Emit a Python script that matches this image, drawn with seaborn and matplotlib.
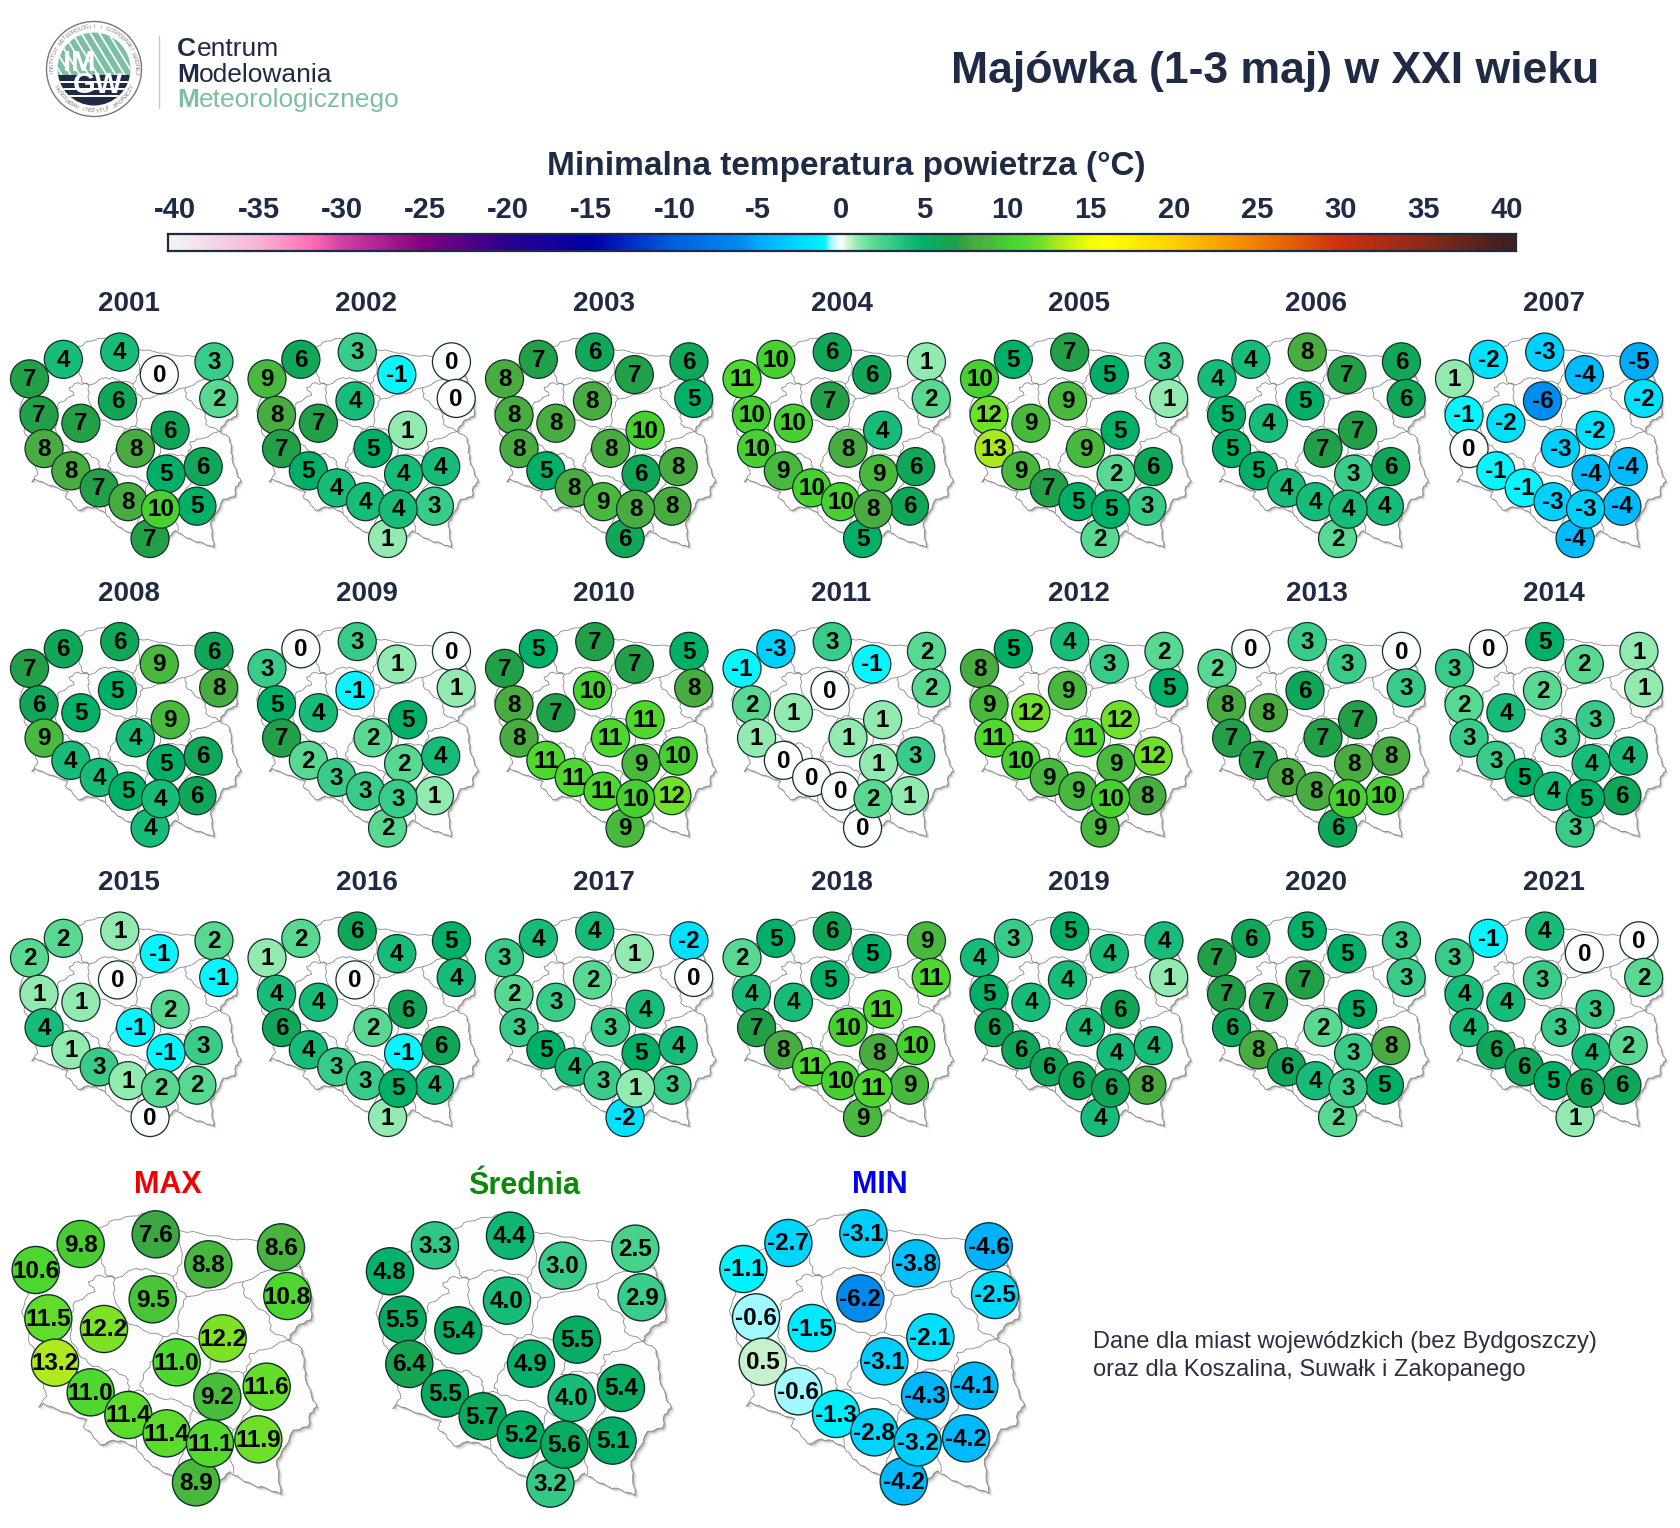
import numpy as np
import pandas as pd
import matplotlib
matplotlib.use("Agg")
import matplotlib.pyplot as plt
import seaborn as sns
from matplotlib.colors import LinearSegmentedColormap, Normalize
from matplotlib.patches import Circle, Polygon, Rectangle

# ---------- data ----------
CITIES = ["Szczecin", "Koszalin", "Gdansk", "Olsztyn", "Suwalki", "Bialystok", "Gorzow", "Poznan",
          "Torun", "Warszawa", "ZielonaGora", "Lodz", "Wroclaw", "Kielce", "Lublin", "Opole",
          "Katowice", "Krakow", "Rzeszow", "Zakopane"]
CITY_X = [107, 242, 467, 625, 843, 862, 145, 312, 458, 668, 165, 530, 272, 652, 800, 385, 500, 630, 775, 588]
CITY_Y = [300, 222, 193, 283, 232, 378, 445, 477, 388, 505, 578, 577, 667, 680, 650, 735, 790, 820, 808, 937]

YEARS = list(range(2001, 2022))
T2001 = [7, 4, 4, 0, 3, 2, 7, 7, 6, 6, 8, 8, 8, 5, 6, 7, 8, 10, 5, 7]
T2002 = [9, 6, 3, -1, 0, 0, 8, 7, 4, 1, 7, 5, 5, 4, 4, 4, 4, 4, 3, 1]
T2003 = [8, 7, 6, 7, 6, 5, 8, 8, 8, 10, 8, 8, 5, 6, 8, 8, 9, 8, 8, 6]
T2004 = [11, 10, 6, 6, 1, 2, 10, 10, 7, 4, 10, 8, 9, 9, 6, 10, 10, 8, 6, 5]
T2005 = [10, 5, 7, 5, 3, 1, 12, 9, 9, 5, 13, 9, 9, 2, 6, 7, 5, 5, 3, 2]
T2006 = [4, 4, 8, 7, 6, 6, 5, 4, 5, 7, 5, 7, 5, 3, 6, 4, 4, 4, 4, 2]
T2007 = [1, -2, -3, -4, -5, -2, -1, -2, -6, -2, 0, -3, -1, -4, -4, -1, -3, -3, -4, -4]
T2008 = [7, 6, 6, 9, 6, 8, 6, 5, 5, 9, 9, 4, 4, 5, 6, 4, 5, 4, 6, 4]
T2009 = [3, 0, 3, 1, 0, 1, 5, 4, -1, 5, 7, 2, 2, 2, 4, 3, 3, 3, 1, 2]
T2010 = [7, 5, 7, 7, 5, 8, 8, 7, 10, 11, 8, 11, 11, 9, 10, 11, 11, 10, 12, 9]
T2011 = [-1, -3, 3, -1, 2, 2, 2, 1, 0, 1, 1, 1, 0, 1, 3, 0, 0, 2, 1, 0]
T2012 = [8, 5, 4, 3, 2, 5, 9, 12, 9, 12, 11, 11, 10, 9, 12, 9, 9, 10, 8, 9]
T2013 = [2, 0, 3, 3, 0, 3, 8, 8, 6, 7, 7, 7, 7, 8, 8, 8, 8, 10, 10, 6]
T2014 = [3, 0, 5, 2, 1, 1, 2, 4, 2, 3, 3, 3, 3, 4, 4, 5, 4, 5, 6, 3]
T2015 = [2, 2, 1, -1, 2, -1, 1, 1, 0, 2, 4, -1, 1, -1, 3, 3, 1, 2, 2, 0]
T2016 = [1, 2, 6, 4, 5, 4, 4, 4, 0, 6, 6, 2, 4, -1, 6, 3, 3, 5, 4, 1]
T2017 = [3, 4, 4, 1, -2, 0, 2, 3, 2, 4, 3, 3, 5, 5, 4, 4, 3, 1, 3, -2]
T2018 = [2, 5, 6, 5, 9, 11, 4, 4, 5, 11, 7, 10, 8, 8, 10, 11, 10, 11, 9, 9]
T2019 = [4, 3, 5, 4, 4, 1, 5, 4, 4, 6, 6, 4, 6, 4, 4, 6, 6, 6, 8, 4]
T2020 = [7, 6, 5, 5, 3, 3, 7, 7, 7, 5, 6, 2, 8, 3, 8, 6, 4, 3, 5, 2]
T2021 = [3, -1, 4, 0, 0, 2, 4, 4, 3, 3, 4, 3, 6, 4, 2, 6, 5, 6, 6, 1]
YEAR_VALUES = [T2001, T2002, T2003, T2004, T2005, T2006, T2007, T2008, T2009, T2010, T2011,
               T2012, T2013, T2014, T2015, T2016, T2017, T2018, T2019, T2020, T2021]
T_MAX = [10.6, 9.8, 7.6, 8.8, 8.6, 10.8, 11.5, 12.2, 9.5, 12.2, 13.2, 11.0, 11.0, 9.2, 11.6, 11.4, 11.4, 11.1, 11.9, 8.9]
T_AVG = [4.8, 3.3, 4.4, 3.0, 2.5, 2.9, 5.5, 5.4, 4.0, 5.5, 6.4, 4.9, 5.5, 4.0, 5.4, 5.7, 5.2, 5.6, 5.1, 3.2]
T_MIN = [-1.1, -2.7, -3.1, -3.8, -4.6, -2.5, -0.6, -1.5, -6.2, -2.1, 0.5, -3.1, -0.6, -4.3, -4.1, -1.3, -2.8, -3.2, -4.2, -4.2]

CBAR_TICKS = list(range(-40, 45, 5))

OUTLINE = [(250, 195), (310, 170), (340, 150), (400, 138), (440, 130), (540, 182), (600, 190), (680, 205), (770, 212),
           (850, 250), (900, 285), (905, 310), (925, 340), (935, 400), (932, 450), (900, 462), (875, 490), (865, 510),
           (905, 535), (912, 580), (915, 620), (935, 680), (950, 710), (930, 730), (925, 770), (880, 780), (855, 830),
           (830, 870), (835, 920), (842, 972), (800, 955), (760, 945), (720, 925), (690, 905), (660, 930), (620, 990),
           (550, 960), (520, 920), (480, 900), (450, 880), (430, 860), (410, 835), (375, 815), (340, 810), (300, 825),
           (275, 790), (250, 770), (262, 750), (220, 735), (165, 715), (130, 700), (115, 712), (140, 680), (130, 640),
           (110, 600), (105, 540), (85, 510), (90, 470), (65, 425), (85, 375), (70, 330), (55, 290), (110, 270), (180, 235)]
BORDERS = [
    [(305, 265), (315, 310), (345, 325), (300, 315), (265, 335), (285, 365), (225, 395), (215, 430), (210, 500),
     (235, 550), (265, 580), (310, 600), (345, 600), (385, 630), (385, 660), (400, 700), (395, 760), (410, 835)],
    [(345, 325), (410, 295), (450, 300), (520, 320), (530, 350), (560, 380), (540, 420), (530, 490)],
    [(345, 325), (340, 370), (370, 450), (430, 480), (490, 500), (530, 490), (600, 510), (640, 560), (620, 610)],
    [(490, 500), (460, 570), (440, 600), (420, 640), (430, 665), (470, 680), (540, 695), (580, 720), (560, 770),
     (550, 850), (520, 920)],
    [(540, 190), (545, 280), (520, 320)],
    [(560, 380), (650, 360), (730, 335), (810, 300), (900, 290)],
    [(730, 335), (730, 370), (760, 400), (810, 440), (810, 480), (865, 510)],
    [(865, 510), (790, 540), (750, 550), (750, 580), (730, 610), (750, 690), (750, 720), (700, 780), (690, 850), (700, 910)],
    [(620, 610), (680, 600), (730, 610)],
    [(580, 720), (640, 750), (700, 780)],
    [(385, 660), (430, 665)],
]

# ---------- style ----------
sns.set_theme(style="white")
plt.rcParams["font.family"] = ["Liberation Sans", "DejaVu Sans"]
NARROW = ["Liberation Sans Narrow", "Liberation Sans"]
NAVY = "#1f2a44"
W, H = 1680, 1528

stops = [(-40, "#f2f2f2"), (-35, "#f7b3d5"), (-32, "#ff70b5"), (-30, "#d040a0"), (-25, "#800080"), (-20, "#2a0090"),
         (-15, "#0000a8"), (-10, "#0060e0"), (-6, "#008cf0"), (-5, "#00aaf8"), (-4, "#00bcff"), (-3, "#00d0ff"),
         (-2, "#00e0ff"), (-1, "#00f4ff"), (-0.6, "#a0f8ff"), (0, "#ffffff"), (0.5, "#c8f0d0"), (1, "#90eab0"),
         (2, "#58d890"), (3, "#38cc88"), (4, "#18bc78"), (5, "#00b068"), (6, "#10a858"), (7, "#22a048"),
         (8, "#48ac40"), (9, "#48b83c"), (10, "#48d030"), (11, "#50d830"), (12, "#70e028"), (13, "#a8e820"),
         (15, "#f0ff00"), (16, "#ffff00"), (20, "#ffd000"), (25, "#f08000"), (30, "#d03010"), (35, "#8c2a18"),
         (40, "#402020")]
CMAP = LinearSegmentedColormap.from_list("temp", [((v + 40) / 80, c) for v, c in stops], N=1024)
NORM = Normalize(-40, 40)

fig = plt.figure(figsize=(W / 100, H / 100), dpi=100, facecolor="white")


def add_px_axes(x0, y0, w, h, **kw):
    return fig.add_axes([x0 / W, 1 - (y0 + h) / H, w / W, h / H], **kw)


def ftext(x, y, s, **kw):
    kw.setdefault("ha", "center")
    kw.setdefault("va", "center")
    return fig.text(x / W, 1 - y / H, s, **kw)


def jag(points, amp=5.0, n=4):
    """Break a border into short wiggly pieces, as on a real boundary."""
    out = []
    k = 0
    for (x1, y1), (x2, y2) in zip(points[:-1], points[1:]):
        d = np.array([x2 - x1, y2 - y1], float)
        L = np.hypot(*d) or 1
        nrm = np.array([-d[1], d[0]]) / L
        for j in range(n):
            t = j / n
            off = amp * np.sin(k * 2.1) if j else 0
            out.append((x1 + d[0] * t + nrm[0] * off, y1 + d[1] * t + nrm[1] * off))
            k += 1
    out.append(points[-1])
    return np.array(out)


OUT_J = jag(OUTLINE + [OUTLINE[0]], amp=3.0, n=3)
BORD_J = [jag(b, amp=4.0, n=3) for b in BORDERS]


def draw_map(x0, y0, scale, values, size, lw):
    ax = add_px_axes(x0, y0, 1020 * scale, 1074 * scale)
    ax.set_xlim(0, 1020)
    ax.set_ylim(1074, 0)
    ax.set_axis_off()
    ax.patch.set_alpha(0)
    # soft shadow
    for off, a in [(20, .05), (15, .07), (11, .10), (7, .14), (4, .18)]:
        ax.add_patch(Polygon(OUT_J + np.array([off * .6, off * .6]), closed=True, fc="#303030", ec="none", alpha=a, zorder=1))
    ax.add_patch(Polygon(OUT_J, closed=True, fc="#fdfdfd", ec="#8a8a8a", lw=.6, zorder=2))
    for b in BORD_J:
        ax.plot(b[:, 0], b[:, 1], color="#8a8a8a", lw=.6, zorder=2.5)
    df = pd.DataFrame({"city": CITIES, "x": CITY_X, "y": CITY_Y, "t": values})
    df = pd.concat([df[df.city != "Krakow"], df[df.city == "Krakow"]])
    sns.scatterplot(data=df, x="x", y="y", hue="t", hue_norm=NORM, palette=CMAP, s=size, ax=ax, legend=False,
                    edgecolor="#12302a", linewidth=lw, zorder=3, clip_on=False)
    for _, r in df.iterrows():
        v = r["t"]
        lab = f"{v:.1f}" if float(v) != int(v) or isinstance(values[0], float) else f"{int(v)}"
        ax.text(r["x"], r["y"] + 3, lab, ha="center", va="center", fontsize=17.5, color="black",
                family=NARROW, weight="bold", zorder=4, clip_on=False)
    ax.set_xlabel("")
    ax.set_ylabel("")
    return ax


# ---------- small multiples ----------
SMALL = 0.2506
for i, (yr, vals) in enumerate(zip(YEARS, YEAR_VALUES)):
    c, r = i % 7, i // 7
    draw_map(2.7 + 237.5 * c, 303.7 + 289.5 * r, SMALL, vals, 750, .9)
    ftext(129 + 237.5 * c, 304 + 289.5 * r, str(yr), fontsize=20, weight="bold", color=NAVY)

# ---------- summary maps ----------
draw_map(0, 1170, 1 / 3, T_MAX, 1150, 1.0)
draw_map(354.3, 1171.3, 1 / 3, T_AVG, 1150, 1.0)
draw_map(707.7, 1169, 1 / 3, T_MIN, 1150, 1.0)
ftext(168, 1185, "MAX", fontsize=22, weight="bold", color="#f00000")
ftext(524, 1186, "Średnia", fontsize=22, weight="bold", color="#0a8a0a")
ftext(880, 1185, "MIN", fontsize=22, weight="bold", color="#0000ee")
ftext(1093, 1342, "Dane dla miast wojewódzkich (bez Bydgoszczy)", ha="left", fontsize=17, color="#2a3040")
ftext(1093, 1370, "oraz dla Koszalina, Suwałk i Zakopanego", ha="left", fontsize=17, color="#2a3040")

# ---------- headings ----------
ftext(1275, 71, "Majówka (1-3 maj) w XXI wieku", fontsize=32, weight="bold", color=NAVY)
ftext(846, 167, "Minimalna temperatura powietrza (°C)", fontsize=24, weight="bold", color=NAVY)

# ---------- colour bar ----------
cax = add_px_axes(168, 234, 1348, 17)
grad = np.linspace(-40.44, 40.56, 1400)[None, :]
cax.pcolormesh(np.linspace(-40.44, 40.56, 1401), [0, 1], grad, cmap=CMAP, norm=NORM, shading="flat", rasterized=True)
cax.set_xlim(-40.44, 40.56)
cax.set_ylim(0, 1)
cax.set_yticks([])
cax.set_xticks(CBAR_TICKS)
cax.set_xticklabels([str(t) for t in CBAR_TICKS], fontsize=21, weight="bold", color=NAVY)
cax.tick_params(axis="x", which="both", direction="in", top=True, bottom=True, width=6.5, length=2.6, color="black",
                pad=7, labeltop=True, labelbottom=False)
for s in cax.spines.values():
    s.set_color(NAVY)
    s.set_linewidth(1.6)
    s.set_visible(True)

# ---------- logo ----------
lax = add_px_axes(0, 0, 440, 130)
lax.set_xlim(0, 440)
lax.set_ylim(130, 0)
lax.set_axis_off()
lax.patch.set_alpha(0)
cx, cy = 94, 69
GREEN = "#7dbfa5"
lax.add_patch(Circle((cx, cy), 47.5, fc="white", ec="#777777", lw=1.0))
disc = Circle((cx, cy), 36.5, transform=lax.transData, fc="none", ec="none")
lax.add_patch(disc)
gr = Rectangle((cx - 40, cy - 40), 80, 46, fc=GREEN, ec="none", clip_path=disc)
lax.add_patch(gr)
gr.set_clip_path(disc)
for k in range(-8, 9):
    ln, = lax.plot([cx + k * 9 - 14, cx + k * 9 + 14], [cy - 38, cy + 8], color="white", lw=1.3, zorder=2.1)
    ln.set_clip_path(disc)
nv = Rectangle((cx - 40, cy + 6), 80, 34, fc=NAVY, ec="none", zorder=2.2)
lax.add_patch(nv)
nv.set_clip_path(disc)
for yy in (cy + 13, cy + 20, cy + 27):
    ln, = lax.plot([cx - 40, cx + 40], [yy, yy], color="white", lw=1.4, zorder=2.3)
    ln.set_clip_path(disc)
lax.text(cx - 15, cy - 6, "IM", color="white", fontsize=21, weight="bold", ha="center", va="center", zorder=3)
lax.text(cx + 4, cy + 16, "GW", color="white", fontsize=21, weight="bold", ha="center", va="center", zorder=3)


def ring_text(s, a0, a1, radius, flip=False):
    for ch, a in zip(s, np.linspace(a0, a1, len(s))):
        rad = np.deg2rad(a)
        x = cx + radius * np.cos(rad)
        y = cy - radius * np.sin(rad)
        rot = a - 90 if not flip else a + 90
        lax.text(x, y, ch, fontsize=4.2, color="#888888", rotation=rot, rotation_mode="anchor", ha="center", va="center", zorder=4)


ring_text("INSTYTUT METEOROLOGII I GOSPODARKI WODNEJ", 185, -5, 42)
ring_text("PAŃSTWOWY INSTYTUT BADAWCZY", 205, 335, 42, flip=True)
lax.plot([159, 159], [36, 108], color="#c8c8c8", lw=1)
for label, base, col in [("entrum", 55.7, NAVY), ("odelowania", 81.7, NAVY), ("eteorologicznego", 106.7, GREEN)]:
    first = {"entrum": "C"}.get(label, "M")
    t = lax.text(177, base, first, fontsize=19, weight="bold", color=col, va="baseline", ha="left")
    fig.canvas.draw()
    bb = t.get_window_extent().transformed(lax.transData.inverted())
    lax.text(bb.x1 + 0.5, base, label, fontsize=19, color=col, va="baseline", ha="left")

fig.savefig("out.png", dpi=100, facecolor="white")
